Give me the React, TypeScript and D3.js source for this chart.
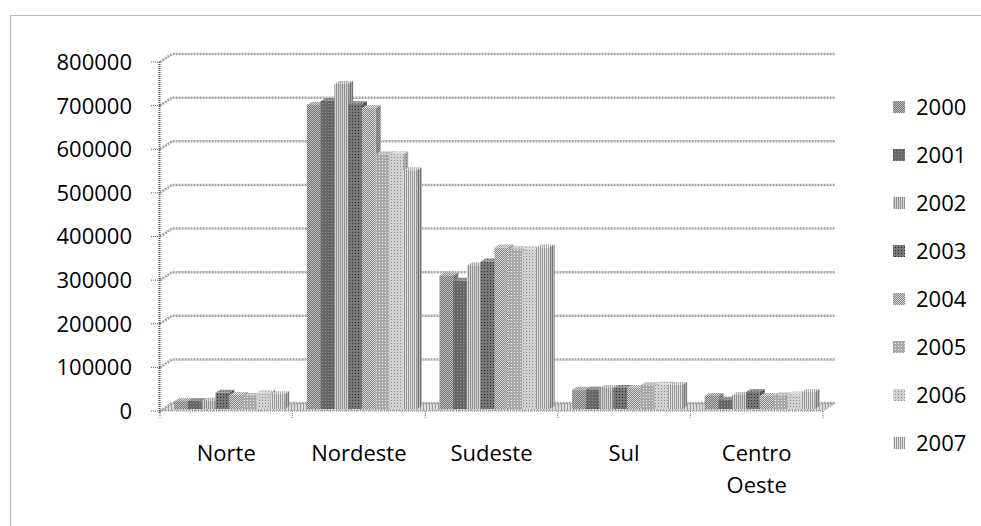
import * as d3 from 'd3'
import { useEffect, useRef } from 'react'

const regions = ['Norte', 'Nordeste', 'Sudeste', 'Sul', 'Centro Oeste']
const years = ['2000', '2001', '2002', '2003', '2004', '2005', '2006', '2007']

// values per region, one per year
const norte = [18000, 18000, 19000, 37000, 32000, 30000, 37000, 34000]
const nordeste = [697000, 706000, 745000, 699000, 690000, 584000, 584000, 547000]
const sudeste = [306000, 294000, 329000, 338000, 370000, 366000, 366000, 370000]
const sul = [44000, 44000, 48000, 48000, 48000, 55000, 56000, 55000]
const centroOeste = [30000, 21000, 32000, 39000, 30000, 31000, 33000, 39000]
const series = [norte, nordeste, sudeste, sul, centroOeste]

const yTicks = [0, 100000, 200000, 300000, 400000, 500000, 600000, 700000, 800000]

// grey fill patterns, one per year: [tile size, base colour, dot colour, kind]
const patterns: [number, string, string, string][] = [
  [2, '#767676', '#bcbcbc', 'checker'],
  [3, '#666666', '#959595', 'dot'],
  [2, '#d4d4d4', '#8e8e8e', 'vline'],
  [3, '#777777', '#2c2c2c', 'dot'],
  [2, '#858585', '#d6d6d6', 'checker'],
  [3, '#a8a8a8', '#ececec', 'dot'],
  [3, '#d2d2d2', '#8c8c8c', 'dot'],
  [2, '#e4e4e4', '#939393', 'vline'],
]

const font = '"Open Sans", sans-serif'

export default function App() {
  const ref = useRef<SVGSVGElement | null>(null)

  useEffect(() => {
    const el = ref.current
    if (!el) return
    const svg = d3.select(el)
    svg.selectAll('*').remove()

    const defs = svg.append('defs')
    patterns.forEach(([s, base, dot, kind], i) => {
      const p = defs.append('pattern').attr('id', 'pat' + i)
        .attr('patternUnits', 'userSpaceOnUse').attr('width', s).attr('height', s)
      p.append('rect').attr('width', s).attr('height', s).attr('fill', base)
      if (kind === 'checker') {
        p.append('rect').attr('x', 0).attr('y', 0).attr('width', 1).attr('height', 1).attr('fill', dot)
        p.append('rect').attr('x', 1).attr('y', 1).attr('width', 1).attr('height', 1).attr('fill', dot)
      } else if (kind === 'dot') {
        p.append('rect').attr('x', 1).attr('y', 1).attr('width', 1).attr('height', 1).attr('fill', dot)
      } else {
        p.append('rect').attr('x', 0).attr('y', 0).attr('width', 1).attr('height', s).attr('fill', dot)
      }
    })
    const fp = defs.append('pattern').attr('id', 'floor')
      .attr('patternUnits', 'userSpaceOnUse').attr('width', 3).attr('height', 3)
    fp.append('rect').attr('width', 3).attr('height', 3).attr('fill', '#dadada')
    fp.append('rect').attr('width', 1).attr('height', 3).attr('fill', '#9c9c9c')

    // outer border
    svg.append('rect').attr('x', 10.5).attr('y', 15.5).attr('width', 990).attr('height', 530)
      .attr('fill', 'none').attr('stroke', '#707070').attr('stroke-dasharray', '1 1')

    const left = 160
    const right = 823
    const dx = 12
    const dy = -8
    const y = d3.scaleLinear().domain([0, 800000]).range([411, 62])
    const x = d3.scaleBand().domain(regions).range([left, right]).paddingInner(0.17).paddingOuter(0.085)
    const xi = d3.scaleBand().domain(years).range([0, x.bandwidth()])

    // floor
    svg.append('path')
      .attr('d', `M${left},${y(0)}L${right},${y(0)}L${right + dx},${y(0) + dy}L${left + dx},${y(0) + dy}Z`)
      .attr('fill', 'url(#floor)')
    svg.append('path')
      .attr('d', `M${left},${y(0)}L${right},${y(0)}L${right + dx},${y(0) + dy}`)
      .attr('fill', 'none').attr('stroke', '#909090').attr('stroke-dasharray', '1 1')

    // gridlines on the back wall + side wall connectors
    yTicks.forEach((t) => {
      const yy = y(t)
      svg.append('path')
        .attr('d', `M${left},${yy}L${left + dx},${yy + dy}L${right + dx},${yy + dy}`)
        .attr('fill', 'none').attr('stroke', '#a2a2a2').attr('stroke-width', 2.5)
        .attr('stroke-dasharray', '2 1')
      svg.append('line').attr('x1', left - 9).attr('x2', left).attr('y1', yy).attr('y2', yy)
        .attr('stroke', '#606060').attr('stroke-dasharray', '1 1')
      svg.append('text').attr('x', 132).attr('y', yy).attr('dy', '0.36em')
        .attr('text-anchor', 'end').attr('font-family', font).attr('font-size', 22)
        .attr('fill', '#000').text(String(t))
    })

    // y axis line
    svg.append('line').attr('x1', left - 0.5).attr('x2', left - 0.5).attr('y1', y(800000)).attr('y2', y(0) + 3)
      .attr('stroke', '#555').attr('stroke-width', 2).attr('stroke-dasharray', '1 1')

    // category ticks
    const bounds = regions.map((r) => (x(r) as number) - (x.step() - x.bandwidth()) / 2).concat([right])
    bounds.forEach((b) => {
      svg.append('line').attr('x1', b).attr('x2', b).attr('y1', y(0)).attr('y2', y(0) + 8)
        .attr('stroke', '#707070').attr('stroke-dasharray', '1 1')
    })

    // bars: sit slightly into the depth, with top and side faces
    const ox = 3
    const oy = -2
    const bx = 5
    const by = -3
    regions.forEach((r, ri) => {
      const g = svg.append('g')
      years.forEach((yr, i) => {
        const v = series[ri][i]
        const x0 = (x(r) as number) + (xi(yr) as number) + ox
        const w = xi.bandwidth()
        const yTop = y(v) + oy
        const yBase = y(0) + oy
        const fill = `url(#pat${i})`
        const side = `M${x0 + w},${yBase}L${x0 + w + bx},${yBase + by}L${x0 + w + bx},${yTop + by}L${x0 + w},${yTop}Z`
        const top = `M${x0},${yTop}L${x0 + w},${yTop}L${x0 + w + bx},${yTop + by}L${x0 + bx},${yTop + by}Z`
        g.append('path').attr('d', side).attr('fill', fill)
        g.append('path').attr('d', side).attr('fill', '#000').attr('opacity', 0.2)
        g.append('path').attr('d', top).attr('fill', fill)
        g.append('path').attr('d', top).attr('fill', '#fff').attr('opacity', 0.25)
        g.append('rect').attr('x', x0).attr('y', yTop).attr('width', w).attr('height', yBase - yTop)
          .attr('fill', fill)
      })
    })

    // category labels
    regions.forEach((r) => {
      const cx = (x(r) as number) + x.bandwidth() / 2
      const t = svg.append('text').attr('text-anchor', 'middle').attr('font-family', font)
        .attr('font-size', 22).attr('fill', '#000')
      r.split(' ').forEach((part, k) => {
        t.append('tspan').attr('x', cx).attr('y', 453 + k * 32).attr('dy', '0.36em').text(part)
      })
    })

    // legend
    const ly = d3.scaleLinear().domain([0, years.length - 1]).range([107, 443])
    years.forEach((yr, i) => {
      svg.append('rect').attr('x', 893).attr('y', ly(i) - 6).attr('width', 12).attr('height', 12)
        .attr('fill', `url(#pat${i})`)
      svg.append('text').attr('x', 916).attr('y', ly(i)).attr('dy', '0.36em')
        .attr('font-family', font).attr('font-size', 22).attr('fill', '#000').text(yr)
    })
  }, [])

  return (
    <svg
      ref={ref}
      width={981}
      height={526}
      style={{ position: 'absolute', left: 0, top: 0, display: 'block', background: '#fff' }}
    />
  )
}
